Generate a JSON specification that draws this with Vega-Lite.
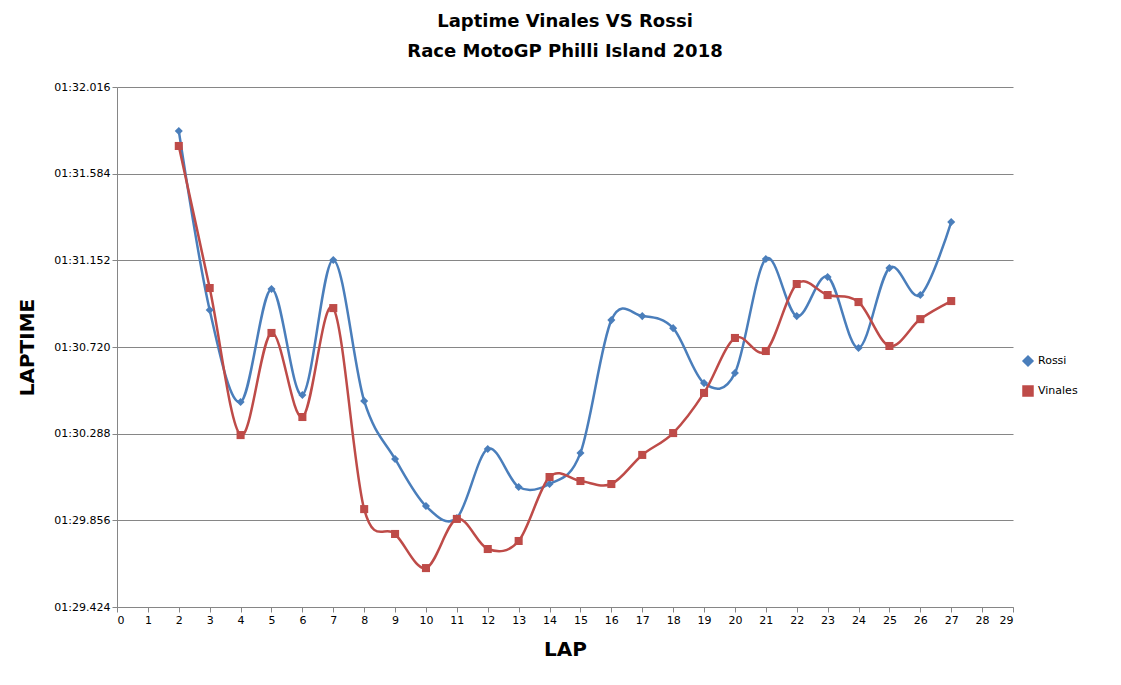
{
  "$schema": "https://vega.github.io/schema/vega-lite/v6.json",
  "autosize": {"type": "none"},
  "padding": {"left": 117, "top": 87, "right": 108, "bottom": 78},
  "width": 896,
  "height": 520,
  "background": "white",
  "title": {
    "text": ["Laptime Vinales VS Rossi", "Race MotoGP Philli Island 2018"],
    "font": "DejaVu Sans",
    "fontSize": 18,
    "fontWeight": "bold",
    "color": "black",
    "offset": 20,
    "lineHeight": 30
  },
  "data": {
    "values": [
      {"lap": 2, "rider": "Rossi", "t": 91.797}, {"lap": 3, "rider": "Rossi", "t": 90.904},
      {"lap": 4, "rider": "Rossi", "t": 90.446}, {"lap": 5, "rider": "Rossi", "t": 91.009},
      {"lap": 6, "rider": "Rossi", "t": 90.481}, {"lap": 7, "rider": "Rossi", "t": 91.154},
      {"lap": 8, "rider": "Rossi", "t": 90.451}, {"lap": 9, "rider": "Rossi", "t": 90.162},
      {"lap": 10, "rider": "Rossi", "t": 89.927}, {"lap": 11, "rider": "Rossi", "t": 89.868},
      {"lap": 12, "rider": "Rossi", "t": 90.212}, {"lap": 13, "rider": "Rossi", "t": 90.022},
      {"lap": 14, "rider": "Rossi", "t": 90.037}, {"lap": 15, "rider": "Rossi", "t": 90.192},
      {"lap": 16, "rider": "Rossi", "t": 90.854}, {"lap": 17, "rider": "Rossi", "t": 90.874},
      {"lap": 18, "rider": "Rossi", "t": 90.814}, {"lap": 19, "rider": "Rossi", "t": 90.540},
      {"lap": 20, "rider": "Rossi", "t": 90.590}, {"lap": 21, "rider": "Rossi", "t": 91.159},
      {"lap": 22, "rider": "Rossi", "t": 90.874}, {"lap": 23, "rider": "Rossi", "t": 91.069},
      {"lap": 24, "rider": "Rossi", "t": 90.715}, {"lap": 25, "rider": "Rossi", "t": 91.114},
      {"lap": 26, "rider": "Rossi", "t": 90.979}, {"lap": 27, "rider": "Rossi", "t": 91.343},
      {"lap": 2, "rider": "Vinales", "t": 91.722}, {"lap": 3, "rider": "Vinales", "t": 91.014},
      {"lap": 4, "rider": "Vinales", "t": 90.281}, {"lap": 5, "rider": "Vinales", "t": 90.790},
      {"lap": 6, "rider": "Vinales", "t": 90.371}, {"lap": 7, "rider": "Vinales", "t": 90.914},
      {"lap": 8, "rider": "Vinales", "t": 89.912}, {"lap": 9, "rider": "Vinales", "t": 89.788},
      {"lap": 10, "rider": "Vinales", "t": 89.618}, {"lap": 11, "rider": "Vinales", "t": 89.863},
      {"lap": 12, "rider": "Vinales", "t": 89.713}, {"lap": 13, "rider": "Vinales", "t": 89.753},
      {"lap": 14, "rider": "Vinales", "t": 90.072}, {"lap": 15, "rider": "Vinales", "t": 90.052},
      {"lap": 16, "rider": "Vinales", "t": 90.037}, {"lap": 17, "rider": "Vinales", "t": 90.182},
      {"lap": 18, "rider": "Vinales", "t": 90.291}, {"lap": 19, "rider": "Vinales", "t": 90.491},
      {"lap": 20, "rider": "Vinales", "t": 90.765}, {"lap": 21, "rider": "Vinales", "t": 90.700},
      {"lap": 22, "rider": "Vinales", "t": 91.034}, {"lap": 23, "rider": "Vinales", "t": 90.979},
      {"lap": 24, "rider": "Vinales", "t": 90.944}, {"lap": 25, "rider": "Vinales", "t": 90.725},
      {"lap": 26, "rider": "Vinales", "t": 90.859}, {"lap": 27, "rider": "Vinales", "t": 90.949}
    ]
  },
  "encoding": {
    "x": {
      "field": "lap", "type": "quantitative", "title": "LAP",
      "scale": {"domain": [0, 29], "nice": false},
      "axis": {"values": [0,1,2,3,4,5,6,7,8,9,10,11,12,13,14,15,16,17,18,19,20,21,22,23,24,25,26,27,28,29],
        "grid": false, "titleFontSize": 20, "titleFont": "DejaVu Sans", "titleFontWeight": "bold", "titlePadding": 14,
        "labelFont": "DejaVu Sans", "labelFontSize": 11, "domainColor": "#868686", "tickColor": "#868686", "labelColor": "black"}
    },
    "y": {
      "field": "t", "type": "quantitative", "title": "LAPTIME",
      "scale": {"domain": [89.424, 92.016], "nice": false, "zero": false},
      "axis": {"values": [89.424, 89.856, 90.288, 90.72, 91.152, 91.584, 92.016],
        "labelExpr": "'01:' + format(datum.value - 60, '06.3f')",
        "gridColor": "#868686", "domainColor": "#868686", "tickColor": "#868686", "labelColor": "black",
        "titleFontSize": 20, "titleFont": "DejaVu Sans", "titleFontWeight": "bold", "titlePadding": 16,
        "labelFont": "DejaVu Sans", "labelFontSize": 11}
    },
    "color": {
      "field": "rider", "type": "nominal", "title": null,
      "scale": {"domain": ["Rossi", "Vinales"], "range": ["#4a7ebb", "#be4b48"]},
      "legend": {"orient": "none", "legendX": 905, "legendY": 268, "labelFont": "DejaVu Sans", "labelFontSize": 11, "rowPadding": 14}
    }
  },
  "layer": [
    {"mark": {"type": "line", "interpolate": "cardinal", "strokeWidth": 2.5}},
    {"mark": {"type": "point", "filled": true, "opacity": 1, "size": 65},
     "encoding": {"shape": {"field": "rider", "type": "nominal", "scale": {"domain": ["Rossi", "Vinales"], "range": ["diamond", "square"]}, "legend": null}}}
  ],
  "config": {"view": {"stroke": null}}
}
